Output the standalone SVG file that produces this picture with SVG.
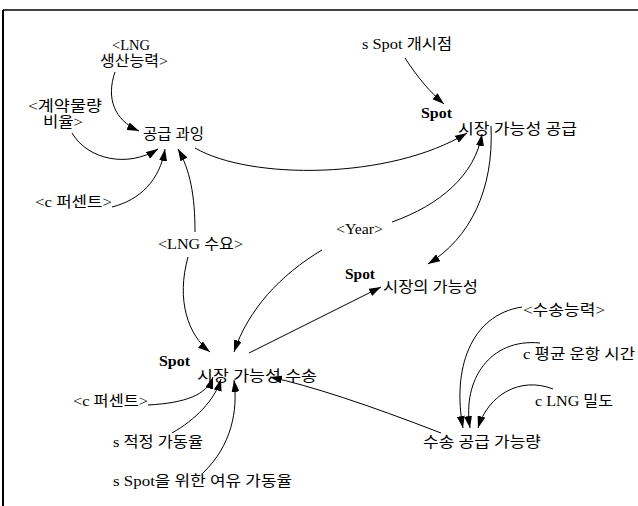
<svg xmlns="http://www.w3.org/2000/svg" width="638" height="506" viewBox="0 0 638 506">
<style>
text{font-family:"Liberation Serif","Noto Sans CJK KR",serif;font-size:15px;fill:#000}
.b{font-weight:bold;font-size:15px}
.c{fill:none;stroke:#000;stroke-width:1}
</style>
<defs>
<marker id="ah" viewBox="0 0 12 8" refX="12" refY="4" markerWidth="12" markerHeight="8" orient="auto" markerUnits="userSpaceOnUse">
<path d="M0,0 L12,4 L0,8 z" fill="#000"/>
</marker>
</defs>
<rect width="638" height="506" fill="#fff"/>
<g id="frame">
<line x1="3" y1="10" x2="638" y2="10" stroke="#000" stroke-width="1.6"/>
<line x1="3" y1="10" x2="3" y2="506" stroke="#000" stroke-width="2"/>
</g>
<g id="connectors">
<path class="c" marker-end="url(#ah)" d="M115,72 C106,98 114,120 139,131"/>
<path class="c" marker-end="url(#ah)" d="M72,133 C88,160 128,168 158,149"/>
<path class="c" marker-end="url(#ah)" d="M112,207 C140,200 160,180 165,149"/>
<path class="c" marker-end="url(#ah)" d="M195,232 C195,195 190,170 178,149"/>
<path class="c" marker-end="url(#ah)" d="M195,148 C250,180 390,180 467,133"/>
<path class="c" marker-end="url(#ah)" d="M405,58 C418,78 430,92 444,104"/>
<path class="c" marker-end="url(#ah)" d="M392,222 C440,205 475,175 482,134"/>
<path class="c" marker-end="url(#ah)" d="M491,126 C494,190 470,238 428,264"/>
<path class="c" marker-end="url(#ah)" d="M322,250 C280,275 248,310 234,352"/>
<path class="c" marker-end="url(#ah)" d="M188,257 C176,300 188,335 210,352"/>
<path class="c" marker-end="url(#ah)" d="M249,353 L381,287"/>
<path class="c" marker-end="url(#ah)" d="M441,433 Q330,390 270,377"/>
<path class="c" marker-end="url(#ah)" d="M148,405 C185,403 207,395 213,377"/>
<path class="c" marker-end="url(#ah)" d="M172,433 C195,420 215,400 221,379"/>
<path class="c" marker-end="url(#ah)" d="M203,473 C232,445 238,410 234,380"/>
<path class="c" marker-end="url(#ah)" d="M522,307 C470,315 452,370 463,428"/>
<path class="c" marker-end="url(#ah)" d="M540,343 C490,338 462,380 470,428"/>
<path class="c" marker-end="url(#ah)" d="M553,389 C520,376 488,395 478,428"/>
</g>
<g id="lng-production"><text x="112" y="50" textLength="38" lengthAdjust="spacingAndGlyphs">&lt;LNG</text><text x="100" y="66" textLength="68" lengthAdjust="spacingAndGlyphs">생산능력&gt;</text></g>
<g id="contract-ratio"><text x="28" y="111" textLength="74" lengthAdjust="spacingAndGlyphs">&lt;계약물량</text><text x="43" y="127" textLength="40" lengthAdjust="spacingAndGlyphs">비율&gt;</text></g>
<g id="oversupply"><text x="143" y="139" textLength="61" lengthAdjust="spacingAndGlyphs">공급 과잉</text></g>
<g id="c-percent-1"><text x="35" y="207" textLength="77" lengthAdjust="spacingAndGlyphs">&lt;c 퍼센트&gt;</text></g>
<g id="lng-demand"><text x="158" y="249" textLength="85" lengthAdjust="spacingAndGlyphs">&lt;LNG 수요&gt;</text></g>
<g id="spot-start"><text x="362" y="49" textLength="90" lengthAdjust="spacingAndGlyphs">s Spot 개시점</text></g>
<g id="spot-supply"><text class="b" x="421" y="118" textLength="31" lengthAdjust="spacingAndGlyphs">Spot</text><text x="458" y="134" textLength="119" lengthAdjust="spacingAndGlyphs">시장 가능성 공급</text></g>
<g id="year"><text x="336" y="234" textLength="47" lengthAdjust="spacingAndGlyphs">&lt;Year&gt;</text></g>
<g id="spot-market"><text class="b" x="345" y="279" textLength="30" lengthAdjust="spacingAndGlyphs">Spot</text><text x="383" y="292" textLength="95" lengthAdjust="spacingAndGlyphs">시장의 가능성</text></g>
<g id="spot-transport"><text class="b" x="159" y="366" textLength="31" lengthAdjust="spacingAndGlyphs">Spot</text><text x="197" y="381" textLength="120" lengthAdjust="spacingAndGlyphs">시장 가능성 수송</text></g>
<g id="c-percent-2"><text x="73" y="406" textLength="75" lengthAdjust="spacingAndGlyphs">&lt;c 퍼센트&gt;</text></g>
<g id="s-proper-rate"><text x="113" y="447" textLength="90" lengthAdjust="spacingAndGlyphs">s 적정 가동율</text></g>
<g id="s-spot-margin"><text x="113" y="486" textLength="179" lengthAdjust="spacingAndGlyphs">s Spot을 위한 여유 가동율</text></g>
<g id="transport-capacity"><text x="523" y="315" textLength="82" lengthAdjust="spacingAndGlyphs">&lt;수송능력&gt;</text></g>
<g id="c-avg-time"><text x="523" y="359" textLength="112" lengthAdjust="spacingAndGlyphs">c 평균 운항 시간</text></g>
<g id="c-lng-density"><text x="535" y="406" textLength="78" lengthAdjust="spacingAndGlyphs">c LNG 밀도</text></g>
<g id="transport-supply"><text x="423" y="447" textLength="118" lengthAdjust="spacingAndGlyphs">수송 공급 가능량</text></g>
</svg>
